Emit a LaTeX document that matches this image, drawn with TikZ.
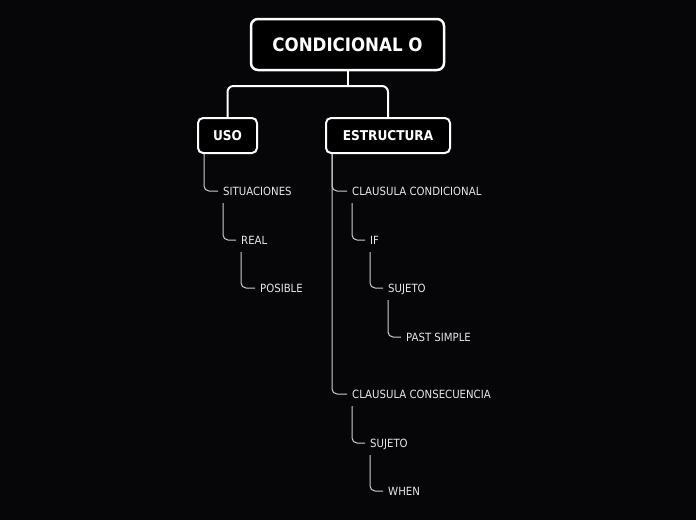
\documentclass[tikz,border=0pt]{standalone}
\usepackage{fontspec}
\setmainfont{DejaVu Sans Condensed}
\usetikzlibrary{calc}
\definecolor{bg}{RGB}{6,6,8}
\definecolor{linec}{RGB}{205,205,205}
\definecolor{txtc}{RGB}{232,232,232}
\tikzset{
  titlebox/.style={draw=white, line width=2.5pt, fill=black, rounded corners=7pt, text=white, font=\bfseries\fontsize{18.5}{21}\selectfont, minimum width=193pt, minimum height=51pt, inner sep=0pt},
  mainbox/.style={draw=white, line width=2pt, fill=black, rounded corners=5pt, text=white, font=\bfseries\fontsize{13.5}{16}\selectfont, minimum height=35pt, inner sep=0pt},
  leaf/.style={anchor=west, text=txtc, font=\fontsize{11.3}{13}\selectfont, inner xsep=5pt, inner ysep=0pt, text height=10.2pt, text depth=2pt},
  topline/.style={draw=white, line width=2pt, rounded corners=6pt},
  hook/.style={draw=linec, line width=1pt, rounded corners=5pt},
}
\begin{document}
\begin{tikzpicture}[x=1pt,y=1pt]
\fill[bg] (0,0) rectangle (696,-520);
\useasboundingbox (0,0) rectangle (696,-520);
\node[titlebox] (title) at (347.5,-44.5) {CONDICIONAL O};
\node[mainbox, minimum width=59pt] (uso) at (227.5,-135.5) {USO};
\node[mainbox, minimum width=124pt] (estr) at (388,-135.5) {ESTRUCTURA};
\coordinate (bar) at (347.5,-86);
\draw[topline] (title.south) -- (bar);
\draw[topline] (uso.north) |- (bar) -| (estr.north);
% USO branch
\node[leaf] (sit) at (218,-191) {SITUACIONES};
\node[leaf] (real) at (236,-240) {REAL};
\node[leaf] (pos) at (255,-288) {POSIBLE};
\draw[hook] ($(uso.south west)+(7,0)$) |- (sit.west);
\draw[hook] ($(sit.west)+(5,-12)$) |- (real.west);
\draw[hook] ($(real.west)+(5,-12)$) |- (pos.west);
% ESTRUCTURA branch
\node[leaf] (cc) at (347,-191) {CLAUSULA CONDICIONAL};
\node[leaf] (if) at (365,-240) {IF};
\node[leaf] (suj1) at (383,-288) {SUJETO};
\node[leaf] (past) at (401,-337) {PAST SIMPLE};
\node[leaf] (cons) at (347,-394) {CLAUSULA CONSECUENCIA};
\node[leaf] (suj2) at (365,-443) {SUJETO};
\node[leaf] (when) at (383,-491) {WHEN};
\draw[hook] ($(estr.south west)+(7,0)$) |- (cc.west);
\draw[hook] ($(estr.south west)+(7,0)$) |- (cons.west);
\draw[hook] ($(cc.west)+(5,-12)$) |- (if.west);
\draw[hook] ($(if.west)+(5,-12)$) |- (suj1.west);
\draw[hook] ($(suj1.west)+(5,-12)$) |- (past.west);
\draw[hook] ($(cons.west)+(5,-12)$) |- (suj2.west);
\draw[hook] ($(suj2.west)+(5,-12)$) |- (when.west);
\end{tikzpicture}
\end{document}
